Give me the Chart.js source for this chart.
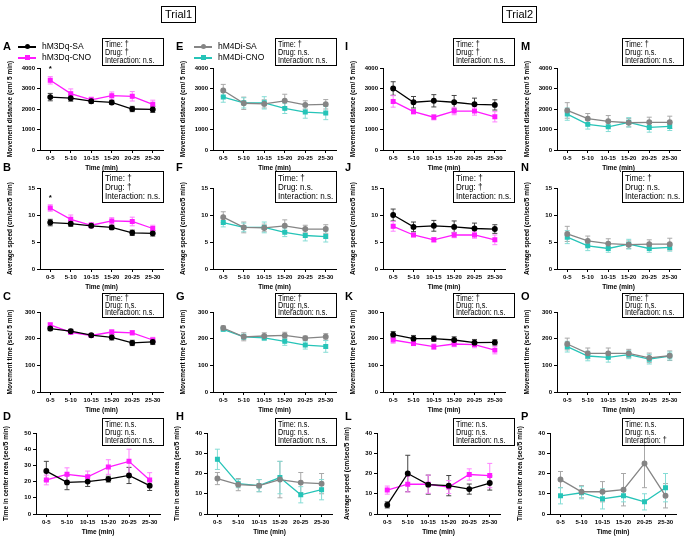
<!DOCTYPE html>
<html>
<head>
<meta charset="utf-8">
<script src="https://cdn.jsdelivr.net/npm/chart.js@4"></script>
<style>
  body { margin: 0; background: #fff; font-family: "Liberation Sans", Arial, sans-serif; }
  #fig { position: relative; width: 685px; height: 537px; overflow: hidden; }
  .abs { position: absolute; }
  .letter { font-weight: bold; font-size: 11px; }
  .trial { border: 1px solid #000; font-size: 11px; padding: 1px 3px; line-height: 13px; }
  .stats { border: 1.5px solid #000; box-sizing: border-box; padding: 1px 2px; color: #000; }
  .stats div { transform: scaleX(0.85); transform-origin: left; white-space: nowrap; }
  .leg { font-size: 8.5px; white-space: nowrap; }
  .leg .ln { position: absolute; height: 1.5px; }
  .leg .mk { position: absolute; width: 5px; height: 5px; }
</style>
</head>
<body>
<div id="fig"></div>
<script>
const timeBins = ['0-5', '5-10', '10-15', '15-20', '20-25', '25-30'];

// Trial1 hM3Dq
const aSa = [2580, 2530, 2380, 2320, 2000, 1980];
const aSaErr = [180, 150, 100, 100, 130, 150];
const aCno = [3400, 2750, 2450, 2650, 2620, 2230];
const aCnoErr = [180, 230, 130, 180, 230, 200];
const bSa = [8.6, 8.4, 8.0, 7.7, 6.7, 6.6];
const bSaErr = [0.6, 0.5, 0.3, 0.4, 0.5, 0.5];
const bCno = [11.3, 9.2, 8.1, 8.9, 8.8, 7.5];
const bCnoErr = [0.6, 0.8, 0.5, 0.6, 0.8, 0.6];
const cSa = [238, 228, 213, 205, 184, 188];
const cSaErr = [8, 7, 6, 10, 10, 10];
const cCno = [252, 224, 212, 225, 222, 195];
const cCnoErr = [6, 8, 6, 8, 8, 10];
const dSa = [26.5, 19.5, 20, 21.5, 23.8, 17.5];
const dSaErr = [6, 4.5, 3, 1.8, 5, 3];
const dCno = [21, 24.5, 23, 29, 32.5, 21];
const dCnoErr = [3, 4, 3.5, 4.5, 7.5, 4.5];

// Trial1 hM4Di
const eSa = [2900, 2280, 2250, 2400, 2200, 2230];
const eSaErr = [300, 300, 200, 320, 200, 230];
const eCno = [2580, 2300, 2300, 2030, 1850, 1800];
const eCnoErr = [250, 250, 300, 250, 300, 320];
const fSa = [9.6, 7.7, 7.6, 8.0, 7.4, 7.4];
const fSaErr = [1.0, 1.0, 0.7, 1.1, 0.7, 0.8];
const fCno = [8.6, 7.7, 7.7, 6.8, 6.2, 6.0];
const fCnoErr = [0.8, 0.8, 1.0, 0.8, 1.0, 1.0];
const gSa = [240, 207, 210, 212, 202, 207];
const gSaErr = [8, 15, 12, 12, 8, 12];
const gCno = [235, 207, 203, 190, 176, 171];
const gCnoErr = [6, 10, 10, 15, 15, 22];
const hSa = [17.5, 14.5, 14, 17, 15.5, 15];
const hSaErr = [3, 3, 3, 9, 5, 5];
const hCno = [27, 15, 14, 18, 9.5, 12];
const hCnoErr = [5, 2, 3, 8, 4, 5];

// Trial2 hM3Dq
const iSa = [3000, 2330, 2400, 2330, 2230, 2200];
const iSaErr = [330, 280, 300, 330, 300, 250];
const iCno = [2370, 1870, 1600, 1900, 1900, 1620];
const iCnoErr = [280, 100, 130, 180, 200, 250];
const jSa = [10.0, 7.8, 8.0, 7.8, 7.5, 7.4];
const jSaErr = [1.1, 0.9, 1.0, 1.1, 1.0, 0.8];
const jCno = [7.9, 6.3, 5.4, 6.3, 6.3, 5.4];
const jCnoErr = [0.9, 0.3, 0.4, 0.5, 0.6, 0.9];
const kSa = [215, 200, 200, 195, 185, 186];
const kSaErr = [12, 12, 10, 12, 12, 10];
const kCno = [195, 182, 170, 180, 178, 157];
const kCnoErr = [12, 8, 10, 10, 12, 14];
const lSa = [4.5, 20, 14.5, 14, 12.3, 15.3];
const lSaErr = [1.5, 9, 4.7, 5, 2.5, 3.5];
const lCno = [11.8, 14.7, 14.7, 13.3, 19.5, 19];
const lCnoErr = [2, 3.8, 4.5, 3.2, 2.8, 6];

// Trial2 hM4Di
const mSa = [1930, 1530, 1400, 1330, 1350, 1350];
const mSaErr = [380, 250, 280, 200, 250, 300];
const mCno = [1750, 1250, 1130, 1350, 1100, 1150];
const mCnoErr = [300, 230, 230, 230, 230, 200];
const nSa = [6.5, 5.2, 4.7, 4.5, 4.6, 4.6];
const nSaErr = [1.4, 0.9, 0.9, 0.7, 0.8, 1.1];
const nCno = [5.9, 4.3, 3.8, 4.6, 3.8, 4.0];
const nCnoErr = [1.2, 0.9, 0.7, 0.9, 0.7, 0.7];
const oSa = [180, 145, 145, 145, 128, 136];
const oSaErr = [22, 20, 20, 15, 18, 18];
const oCno = [170, 135, 130, 140, 123, 135];
const oCnoErr = [20, 18, 18, 15, 18, 15];
const pSa = [17, 11, 11, 12, 25, 9];
const pSaErr = [4, 3, 5, 8, 12, 6];
const pCno = [9, 10.5, 7.5, 9, 6, 13];
const pCnoErr = [4, 3, 5, 3, 4, 7];

const distTitle = 'Movement distance (cm/ 5 min)';
const speedTitle = 'Average speed (cm/sec/5 min)';
const moveTitle = 'Movement time (sec/ 5 min)';
const centerTitle = 'Time in center area (sec/5 min)';

const M3 = { sa: '#000000', saErr: '#444444', cno: '#ff1aff', cnoErr: '#ff80ff' };
const M4 = { sa: '#858585', saErr: '#a8a8a8', cno: '#26c4b8', cnoErr: '#85dcd5' };

const panels = [
  { l: 'A', col: 0, row: 0, max: 4000, step: 1000, title: distTitle, c: M3, sa: aSa, saE: aSaErr, cno: aCno, cnoE: aCnoErr, stats: ['†', '†', 'n.s.'], star: [0, 3950] },
  { l: 'B', col: 0, row: 1, max: 15, step: 5, title: speedTitle, c: M3, sa: bSa, saE: bSaErr, cno: bCno, cnoE: bCnoErr, stats: ['†', '†', 'n.s.'], star: [0, 13.2] },
  { l: 'C', col: 0, row: 2, max: 300, step: 100, title: moveTitle, c: M3, sa: cSa, saE: cSaErr, cno: cCno, cnoE: cCnoErr, stats: ['†', 'n.s.', 'n.s.'] },
  { l: 'D', col: 0, row: 3, max: 50, step: 10, title: centerTitle, c: M3, sa: dSa, saE: dSaErr, cno: dCno, cnoE: dCnoErr, stats: ['n.s.', 'n.s.', 'n.s.'], axis: 36, right: 160 },
  { l: 'E', col: 1, row: 0, max: 4000, step: 1000, title: distTitle, c: M4, sa: eSa, saE: eSaErr, cno: eCno, cnoE: eCnoErr, stats: ['†', 'n.s.', 'n.s.'] },
  { l: 'F', col: 1, row: 1, max: 15, step: 5, title: speedTitle, c: M4, sa: fSa, saE: fSaErr, cno: fCno, cnoE: fCnoErr, stats: ['†', 'n.s.', 'n.s.'] },
  { l: 'G', col: 1, row: 2, max: 300, step: 100, title: moveTitle, c: M4, sa: gSa, saE: gSaErr, cno: gCno, cnoE: gCnoErr, stats: ['†', 'n.s.', 'n.s.'] },
  { l: 'H', col: 1, row: 3, max: 40, step: 10, title: centerTitle, c: M4, sa: hSa, saE: hSaErr, cno: hCno, cnoE: hCnoErr, stats: ['n.s.', 'n.s.', 'n.s.'], axis: 207, right: 332 },
  { l: 'I', col: 2, row: 0, max: 4000, step: 1000, title: distTitle, c: M3, sa: iSa, saE: iSaErr, cno: iCno, cnoE: iCnoErr, stats: ['†', '†', 'n.s.'] },
  { l: 'J', col: 2, row: 1, max: 15, step: 5, title: speedTitle, c: M3, sa: jSa, saE: jSaErr, cno: jCno, cnoE: jCnoErr, stats: ['†', '†', 'n.s.'] },
  { l: 'K', col: 2, row: 2, max: 300, step: 100, title: moveTitle, c: M3, sa: kSa, saE: kSaErr, cno: kCno, cnoE: kCnoErr, stats: ['†', 'n.s.', 'n.s.'] },
  { l: 'L', col: 2, row: 3, max: 40, step: 10, title: speedTitle, c: M3, sa: lSa, saE: lSaErr, cno: lCno, cnoE: lCnoErr, stats: ['n.s.', 'n.s.', 'n.s.'], axis: 377, right: 500 },
  { l: 'M', col: 3, row: 0, max: 4000, step: 1000, title: distTitle, c: M4, sa: mSa, saE: mSaErr, cno: mCno, cnoE: mCnoErr, stats: ['†', 'n.s.', 'n.s.'] },
  { l: 'N', col: 3, row: 1, max: 15, step: 5, title: speedTitle, c: M4, sa: nSa, saE: nSaErr, cno: nCno, cnoE: nCnoErr, stats: ['†', 'n.s.', 'n.s.'] },
  { l: 'O', col: 3, row: 2, max: 300, step: 100, title: moveTitle, c: M4, sa: oSa, saE: oSaErr, cno: oCno, cnoE: oCnoErr, stats: ['†', 'n.s.', 'n.s.'] },
  { l: 'P', col: 3, row: 3, max: 40, step: 10, title: centerTitle, c: M4, sa: pSa, saE: pSaErr, cno: pCno, cnoE: pCnoErr, stats: ['n.s.', 'n.s.', '†'], axis: 550, right: 676 },
];

// layout of the figure grid
const colAxis = [40, 213, 383, 557];
const colRight = [163, 336, 505, 680];
const rowTop = [68, 188, 312, 433];
const rowBottom = [150, 269, 392, 514];
const letterX = [3, 176, 345, 521];
const letterY = [40, 161, 290, 410];
const boxLeft = [102, 275, 453, 622];
const boxTop = [38, 171, 293, 418];
const boxH = [28, 32, 25, 28];
const boxLine = [8, 9, 7, 8];
const boxFont = [8.5, 9.5, 8.5, 8.5];
const YW = 40, XH = 22, PT = 24, PR = 6;

const fig = document.getElementById('fig');
const boldFont = (s) => ({ family: '"Liberation Sans", Arial, sans-serif', size: s, weight: 'bold' });

const errorBars = {
  id: 'errorBars',
  beforeDatasetsDraw(chart) {
    const ctx = chart.ctx, y = chart.scales.y;
    chart.data.datasets.forEach((ds, i) => {
      const meta = chart.getDatasetMeta(i);
      ctx.save();
      ctx.strokeStyle = ds.errColor;
      ctx.lineWidth = 1;
      meta.data.forEach((pt, j) => {
        const v = ds.data[j], e = ds.errs[j];
        const y1 = y.getPixelForValue(v + e), y2 = y.getPixelForValue(v - e);
        ctx.beginPath();
        ctx.moveTo(pt.x, y1); ctx.lineTo(pt.x, y2);
        ctx.moveTo(pt.x - 2.5, y1); ctx.lineTo(pt.x + 2.5, y1);
        ctx.moveTo(pt.x - 2.5, y2); ctx.lineTo(pt.x + 2.5, y2);
        ctx.stroke();
      });
      ctx.restore();
    });
  }
};

const starMark = {
  id: 'starMark',
  afterDatasetsDraw(chart, args, opts) {
    if (!opts.at) return;
    const ctx = chart.ctx;
    const x = chart.scales.x.getPixelForValue(opts.at[0]);
    const y = chart.scales.y.getPixelForValue(opts.at[1]);
    ctx.save();
    ctx.fillStyle = '#000';
    ctx.font = 'bold 8px "Liberation Sans", Arial';
    ctx.textAlign = 'center';
    ctx.textBaseline = 'middle';
    ctx.fillText('*', x, y);
    ctx.restore();
  }
};

function addEl(cls, x, y, html, style) {
  const d = document.createElement('div');
  d.className = 'abs ' + cls;
  d.style.left = x + 'px';
  d.style.top = y + 'px';
  if (style) Object.assign(d.style, style);
  d.innerHTML = html;
  fig.appendChild(d);
  return d;
}

panels.forEach(p => {
  const axis = p.axis ?? colAxis[p.col];
  const right = p.right ?? colRight[p.col];
  const top = rowTop[p.row], bottom = rowBottom[p.row];
  const left = axis - YW, ctop = top - PT;
  const w = right + PR - left, h = bottom + XH - ctop;

  const cv = document.createElement('canvas');
  cv.width = w; cv.height = h;
  cv.className = 'abs';
  cv.style.left = left + 'px';
  cv.style.top = ctop + 'px';
  fig.appendChild(cv);

  const axisGrid = { display: true, drawOnChartArea: false, drawTicks: true, tickLength: 3, color: '#000' };
  new Chart(cv, {
    type: 'line',
    data: {
      labels: timeBins,
      datasets: [
        { data: p.sa, errs: p.saE, errColor: p.c.saErr, borderColor: p.c.sa, backgroundColor: p.c.sa,
          pointStyle: 'circle', pointRadius: 2.3, borderWidth: 1.3 },
        { data: p.cno, errs: p.cnoE, errColor: p.c.cnoErr, borderColor: p.c.cno, backgroundColor: p.c.cno,
          pointStyle: 'rect', pointRadius: 2.6, borderWidth: 1.3 }
      ]
    },
    options: {
      responsive: false,
      animation: false,
      layout: { padding: { top: PT, right: PR, left: 0, bottom: 0 } },
      plugins: { legend: { display: false }, tooltip: { enabled: false }, starMark: { at: p.star } },
      scales: {
        x: {
          offset: true,
          grid: { ...axisGrid, offset: false },
          border: { display: true, color: '#000', width: 1 },
          ticks: { color: '#000', font: boldFont(6), padding: 2, maxRotation: 0, autoSkip: false },
          title: { display: true, text: 'Time (min)', color: '#000', font: boldFont(6.5), padding: { top: 1, bottom: 0 } },
          afterFit(s) { s.height = XH; }
        },
        y: {
          min: 0, max: p.max,
          grid: axisGrid,
          border: { display: true, color: '#000', width: 1 },
          ticks: { stepSize: p.step, color: '#000', font: boldFont(6), padding: 2, callback: v => String(v) },
          title: { display: true, text: p.title, color: '#000', font: boldFont(6.5), padding: { top: 6, bottom: 0 } },
          afterFit(s) { s.width = YW; }
        }
      }
    },
    plugins: [errorBars, starMark]
  });

  // panel letter
  addEl('letter', letterX[p.col], letterY[p.row], p.l);

  // stats box
  addEl('stats', boxLeft[p.col], boxTop[p.row],
    `<div>Time: ${p.stats[0]}</div><div>Drug: ${p.stats[1]}</div><div>Interaction: ${p.stats[2]}</div>`,
    { width: '62px', height: boxH[p.row] + 'px', fontSize: boxFont[p.row] + 'px', lineHeight: boxLine[p.row] + 'px' });
});

// trial headers
addEl('trial', 161, 6, 'Trial1');
addEl('trial', 502, 6, 'Trial2');

// legends
function legend(x, y, label, color, round) {
  const d = addEl('leg', x, y - 5, '', {});
  d.innerHTML =
    `<span class="ln" style="left:0;top:5px;width:18px;background:${color}"></span>` +
    `<span class="mk" style="left:6.5px;top:3px;background:${color};border-radius:${round ? '50%' : '0'}"></span>` +
    `<span style="position:absolute;left:24px;top:0;line-height:10px">${label}</span>`;
}
legend(18, 46, 'hM3Dq-SA', M3.sa, true);
legend(18, 57, 'hM3Dq-CNO', M3.cno, false);
legend(194, 46, 'hM4Di-SA', M4.sa, true);
legend(194, 57, 'hM4Di-CNO', M4.cno, false);
</script>
</body>
</html>
